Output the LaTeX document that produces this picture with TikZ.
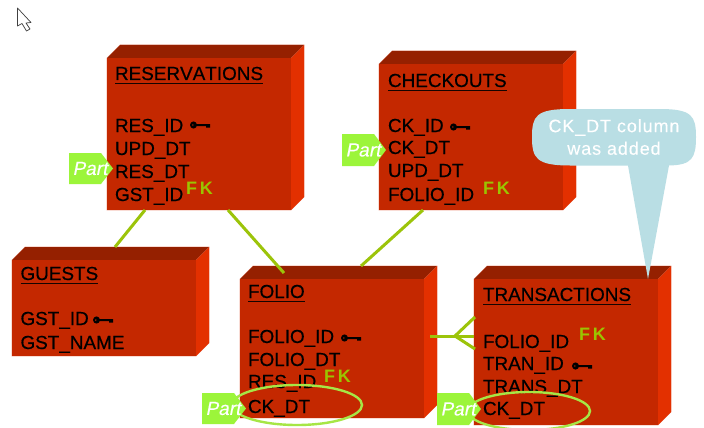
\documentclass[tikz,border=0pt]{standalone}
\usepackage{fontspec}
\setmainfont{Liberation Sans}
\newfontfamily\calloutfont[LetterSpace=5,FakeBold=0.2]{Liberation Sans}
\newfontfamily\columnfont[Kerning=Off,FakeBold=0.5]{Liberation Sans}
\newfontfamily\parttagfont[FakeSlant=0.2,FakeBold=0.3]{Liberation Sans}
\usetikzlibrary{calc}
\definecolor{frontred}{HTML}{C42800}
\definecolor{topred}{HTML}{952000}
\definecolor{sidered}{HTML}{E33000}
\definecolor{edgepink}{HTML}{EE9C88}
\definecolor{linkgreen}{HTML}{9CC40A}
\definecolor{fkgreen}{HTML}{9BC400}
\definecolor{tagGreen}{HTML}{9CF53A}
\definecolor{ringgreen}{HTML}{A6E645}
\definecolor{calloutblue}{HTML}{B9DEE4}
\tikzset{
  frontface/.style={fill=frontred,draw=none,inner sep=0pt,outer sep=0pt},
  topface/.style={fill=topred,draw=none},
  sideface/.style={fill=sidered,draw=none},
  outerline/.style={draw=edgepink,line width=0.6pt},
  coltext/.style={anchor=base west,inner sep=0pt,outer sep=0pt,text=black,font=\fontsize{18.9}{20}\selectfont\columnfont},
  fktext/.style={anchor=base west,inner sep=0pt,outer sep=0pt,text=fkgreen,font=\fontsize{18}{20}\selectfont\bfseries},
  link/.style={draw=linkgreen,line width=3pt},
  ring/.style={draw=ringgreen,line width=2.4pt},
  parttag/.style={fill=tagGreen,draw=none},
  parttext/.style={inner sep=0pt,text=white,font=\fontsize{19}{22}\selectfont\parttagfont},
  calloutshape/.style={fill=calloutblue,draw=none},
  callouttext/.style={inner sep=0pt,text=white,align=center,font=\fontsize{18}{22.5}\selectfont\calloutfont},
  keyglyph/.pic={
    \fill[black] (3.5,0) circle [x radius=3.5pt,y radius=3.6pt];
    \fill[black] (6,-1) -- (20,-1) -- (20,2.5) -- (16,2.5) -- (16,1) -- (6,1) -- cycle;
    \fill[frontred] (2.8,0) circle [radius=0.8pt];
  },
}
% name, left, top, right, bottom
\newcommand{\tablebox}[5]{%
  \draw[outerline] (#2,#3) -- ($(#2,#3)+(13,-13)$) -- ($(#4,#3)+(13,-13)$) -- ($(#4,#5)+(13,-13)$) -- (#4,#5) -- (#2,#5) -- cycle;
  \path[topface] (#2,#3) -- ($(#2,#3)+(13,-13)$) -- ($(#4,#3)+(13,-13)$) -- (#4,#3) -- cycle;
  \path[sideface] (#4,#3) -- ($(#4,#3)+(13,-13)$) -- ($(#4,#5)+(13,-13)$) -- (#4,#5) -- cycle;
  \node[frontface,minimum width={(#4-#2)*1pt},minimum height={(#5-#3)*1pt}] (#1) at ({(#2+#4)/2},{(#3+#5)/2}) {};
}
% name, x, top y, bottom y (pentagon)
\newcommand{\parttagat}[4]{%
  \path[parttag] (#2,#3) -- ($(#2,#3)+(32,0)$) -- ($(#2,#3)!.5!(#2,#4)+(44,0)$) -- ($(#2,#4)+(32,0)$) -- (#2,#4) -- cycle;
  \node[parttext] (#1) at ($(#2,#3)!.5!(#2,#4)+(21,0)$) {Part};
}
% title node: name, x, baseline, text
\newcommand{\titleat}[4]{%
  \node[coltext] (#1) at (#2,#3) {#4};
  \draw[black!90!frontred,line width=1pt] ($(#1.base west)+(0,3)$) -- ($(#1.base east)+(0,3)$);
}
\begin{document}
\begin{tikzpicture}[x=1pt,y=-1pt]
\useasboundingbox (0,0) rectangle (704,428);
\fill[white] (0,0) rectangle (704,428);

% cursor
\draw[fill=white,draw=black!75,line width=0.7pt,line join=round]
  (17.5,8) -- (17.5,26) -- (22,23.5) -- (26.5,31) -- (30,29) -- (26,23) -- (31,22.5) -- cycle;

% tables
\tablebox{res}{107}{58}{291}{210}
\tablebox{chk}{379}{64}{563}{210}
\tablebox{gst}{12}{260}{196}{356}
\tablebox{fol}{240}{279}{424}{418}
\tablebox{trn}{474}{279}{658}{425}

% RESERVATIONS
\titleat{resT}{115}{80}{RESERVATIONS}
\node[coltext] (res1) at (115,132) {RES\_ID};
\node[coltext] (res2) at (115,155) {UPD\_DT};
\node[coltext] (res3) at (115,178) {RES\_DT};
\node[coltext] (res4) at (115,201) {GST\_ID};
\pic at (190,125) {keyglyph};
\node[fktext] (resF) at (186,194) {F\,K};

% CHECKOUTS
\titleat{chkT}{388}{87}{CHECKOUTS}
\node[coltext] (chk1) at (388,132) {CK\_ID};
\node[coltext] (chk2) at (388,154) {CK\_DT};
\node[coltext] (chk3) at (388,177) {UPD\_DT};
\node[coltext] (chk4) at (388,201) {FOLIO\_ID};
\pic at (450,127) {keyglyph};
\node[fktext] (chkF) at (483,194) {F\,K};

% GUESTS
\titleat{gstT}{20.5}{280}{GUESTS}
\node[coltext] (gst1) at (20.5,325) {GST\_ID};
\node[coltext] (gst2) at (20.5,349) {GST\_NAME};
\pic at (93,320) {keyglyph};

% FOLIO
\titleat{folT}{248}{298}{FOLIO}
\node[coltext] (fol1) at (248,343) {FOLIO\_ID};
\node[coltext] (fol2) at (248,366) {FOLIO\_DT};
\node[coltext] (fol3) at (248,388) {RES\_ID};
\node[coltext] (fol4) at (248,413) {CK\_DT};
\pic at (341,338) {keyglyph};
\node[fktext] (folF) at (324,382) {F\,K};

% TRANSACTIONS
\titleat{trnT}{483}{301}{TRANSACTIONS}
\node[coltext] (trn1) at (483,348) {FOLIO\_ID};
\node[coltext] (trn2) at (483,370) {TRAN\_ID};
\node[coltext] (trn3) at (483,393) {TRANS\_DT};
\node[coltext] (trn4) at (483,415) {CK\_DT};
\pic at (572,366) {keyglyph};
\node[fktext] (trnF) at (579,340) {F\,K};

% connectors
\draw[link] ($(res.south west)+(38,0)$) -- ($(gst.north west)+(103,-13)$);
\draw[link] ($(res.south west)+(121,0)$) -- ($(fol.north west)+(44,-6)$);
\draw[link] ($(chk.south west)+(44,0)$) -- ($(fol.north west)+(121,-13)$);
\coordinate (crowstem) at ($(fol.north east)+(6,57)$);
\coordinate (crowfork) at ($(fol.north east)+(31,57)$);
\draw[link] (crowstem) -- (crowfork -| trn.west);
\draw[link] ($(trn.north west)+(1,38)$) -- (crowfork) -- ($(trn.north west)+(1,70)$);

% rings
\draw[ring] (297,405) ellipse [x radius=65pt,y radius=20pt];
\draw[ring] (529,411) ellipse [x radius=61pt,y radius=19pt];

% part tags
\parttagat{resP}{69}{153}{184}
\parttagat{chkP}{342}{134}{166}
\parttagat{folP}{202}{393}{424}
\parttagat{trnP}{437}{393}{425}

% callout
\path[calloutshape] (532,137)
  .. controls (532,116) and (536,109) .. (570,109)
  -- (660,109)
  .. controls (692,109) and (696,116) .. (696,137)
  .. controls (696,158) and (692,165) .. (669,165.5)
  -- (648,279) -- (628,165.5)
  -- (570,165.5)
  .. controls (536,165.5) and (532,158) .. cycle;
\node[callouttext] (note) at (614,137) {CK\_DT column\\was added};
\end{tikzpicture}
\end{document}
